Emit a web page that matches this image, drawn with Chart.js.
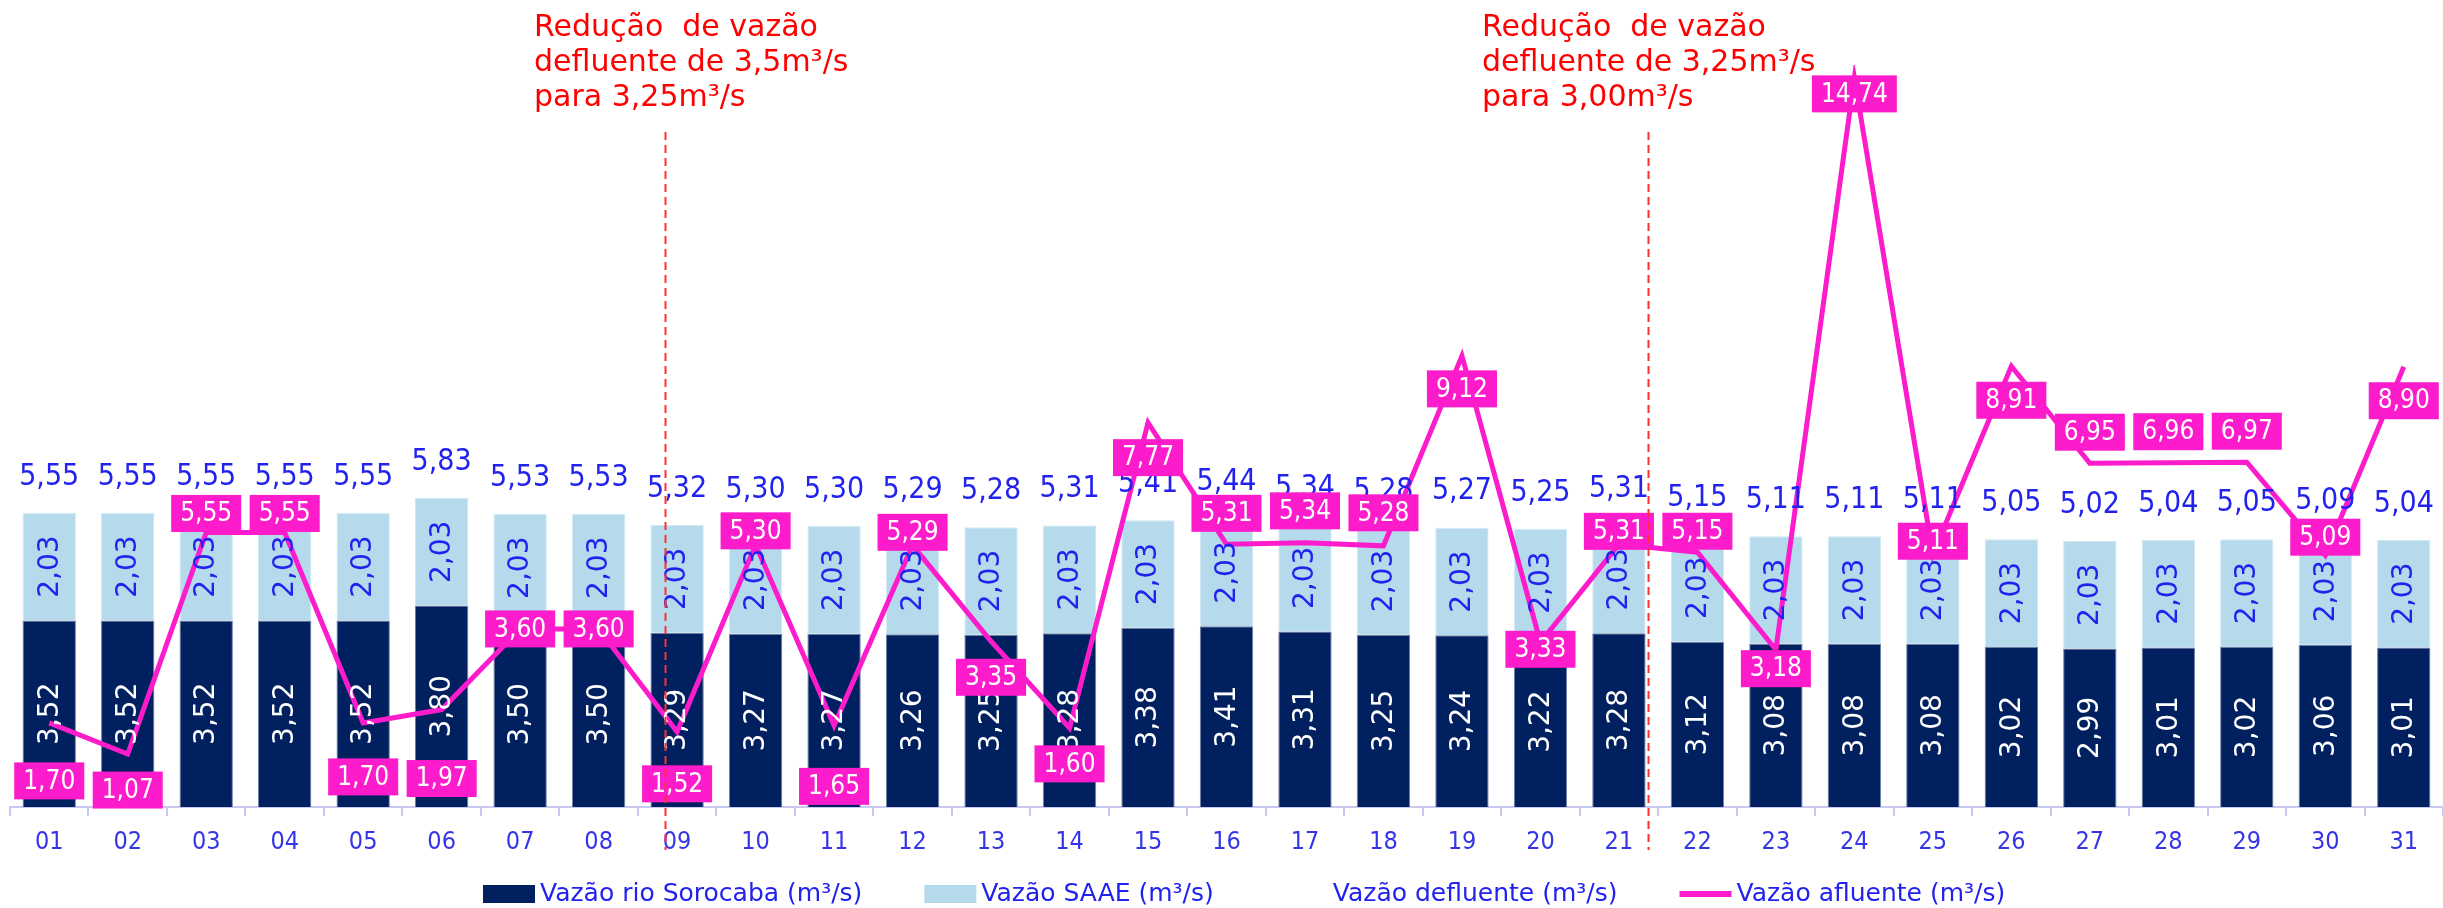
<!DOCTYPE html>
<html>
<head>
<meta charset="utf-8">
<script src="https://cdn.jsdelivr.net/npm/chart.js@4.4.1/dist/chart.umd.min.js"></script>
<style>
  html, body { margin: 0; padding: 0; background: #fff; }
  #wrap { width: 2443px; height: 908px; }
</style>
</head>
<body>
<div id="wrap"><canvas id="chart"></canvas></div>
<script>
const dias = ['01','02','03','04','05','06','07','08','09','10','11','12','13','14','15','16',
              '17','18','19','20','21','22','23','24','25','26','27','28','29','30','31'];
const sorocaba = [3.52,3.52,3.52,3.52,3.52,3.80,3.50,3.50,3.29,3.27,3.27,3.26,3.25,3.28,3.38,3.41,
                  3.31,3.25,3.24,3.22,3.28,3.12,3.08,3.08,3.08,3.02,2.99,3.01,3.02,3.06,3.01];
const saae = [2.03,2.03,2.03,2.03,2.03,2.03,2.03,2.03,2.03,2.03,2.03,2.03,2.03,2.03,2.03,2.03,
              2.03,2.03,2.03,2.03,2.03,2.03,2.03,2.03,2.03,2.03,2.03,2.03,2.03,2.03,2.03];
const defluente = [5.55,5.55,5.55,5.55,5.55,5.83,5.53,5.53,5.32,5.30,5.30,5.29,5.28,5.31,5.41,5.44,
                   5.34,5.28,5.27,5.25,5.31,5.15,5.11,5.11,5.11,5.05,5.02,5.04,5.05,5.09,5.04];
const afluente = [1.70,1.07,5.55,5.55,1.70,1.97,3.60,3.60,1.52,5.30,1.65,5.29,3.35,1.60,7.77,5.31,
                  5.34,5.28,9.12,3.33,5.31,5.15,3.18,14.74,5.11,8.91,6.95,6.96,6.97,5.09,8.90];

// deslocamento vertical das etiquetas da vazão afluente (px)
const afluenteLabelDy = [58,36,-19,-19,54,69,0,0,52,-14,61,-13,36,36,35,-31,
                         -32,-33,33,7,-13,-21,19,16,-13,34,-31,-31,-31,-18,34];

const notas = [
  { pos: 7.85,  textX: 534,  linhas: ['Redução  de vazão', 'defluente de 3,5m³/s', 'para 3,25m³/s'] },
  { pos: 20.37, textX: 1482, linhas: ['Redução  de vazão', 'defluente de 3,25m³/s', 'para 3,00m³/s'] }
];

const FONT = "'DejaVu Sans Condensed', 'Liberation Sans Narrow', sans-serif";
const FONT_W = "'DejaVu Sans', Verdana, sans-serif";
const AZUL = '#2222ee';
const MAGENTA = '#fc1ccc';
const fmt = v => v.toFixed(2).replace('.', ',');

const labelsPlugin = {
  id: 'labels',
  afterDatasetsDraw(chart) {
    const ctx = chart.ctx;
    ctx.save();

    // valores dentro das barras (rotacionados)
    [0, 1].forEach(di => {
      const meta = chart.getDatasetMeta(di);
      meta.data.forEach((bar, i) => {
        const cy = (bar.y + bar.base) / 2;
        ctx.save();
        ctx.translate(bar.x, cy);
        ctx.rotate(-Math.PI / 2);
        ctx.font = '28px ' + FONT_W;
        ctx.fillStyle = di === 0 ? '#ffffff' : AZUL;
        ctx.textAlign = 'center';
        ctx.textBaseline = 'middle';
        ctx.fillText(fmt(chart.data.datasets[di].data[i]), 0, 1);
        ctx.restore();
      });
    });

    // vazão defluente acima das barras
    const defMeta = chart.getDatasetMeta(2);
    ctx.font = '30px ' + FONT;
    ctx.fillStyle = AZUL;
    ctx.textAlign = 'center';
    ctx.textBaseline = 'middle';
    defMeta.data.forEach((pt, i) => {
      ctx.fillText(fmt(defluente[i]), pt.x, pt.y - 36);
    });

    // vazão afluente em caixas magenta
    const afMeta = chart.getDatasetMeta(3);
    ctx.font = '26px ' + FONT;
    afMeta.data.forEach((pt, i) => {
      const t = fmt(afluente[i]);
      const w = ctx.measureText(t).width + 18;
      const h = 37;
      const cy = pt.y + afluenteLabelDy[i];
      ctx.fillStyle = MAGENTA;
      ctx.fillRect(pt.x - w / 2, cy - h / 2, w, h);
      ctx.fillStyle = '#ffffff';
      ctx.fillText(t, pt.x, cy + 1);
    });
    ctx.restore();
  },
  afterDraw(chart) {
    const ctx = chart.ctx;
    const x = chart.scales.x;
    ctx.save();
    // linhas tracejadas e notas
    notas.forEach(n => {
      const px = Math.round(x.getPixelForValue(n.pos)) + 0.5;
      ctx.strokeStyle = '#ff3030';
      ctx.lineWidth = 2;
      ctx.setLineDash([8, 5]);
      ctx.beginPath();
      ctx.moveTo(px, 132);
      ctx.lineTo(px, 850);
      ctx.stroke();
      ctx.setLineDash([]);
      ctx.fillStyle = '#ff0000';
      ctx.font = '30px ' + FONT_W;
      ctx.textAlign = 'left';
      ctx.textBaseline = 'alphabetic';
      n.linhas.forEach((l, k) => ctx.fillText(l, n.textX, 36 + k * 35));
    });

    // legenda
    const itens = [
      { text: chart.data.datasets[0].label, tipo: 'box', cor: '#002060' },
      { text: chart.data.datasets[1].label, tipo: 'box', cor: '#b4daec' },
      { text: chart.data.datasets[2].label, tipo: 'none' },
      { text: chart.data.datasets[3].label, tipo: 'line', cor: MAGENTA }
    ];
    ctx.font = '25px ' + FONT_W;
    ctx.textBaseline = 'middle';
    ctx.textAlign = 'left';
    let lx = 483;
    const ly = 894;
    itens.forEach(it => {
      if (it.tipo === 'box') {
        ctx.fillStyle = it.cor;
        ctx.fillRect(lx, ly - 9, 52, 18);
      } else if (it.tipo === 'line') {
        ctx.strokeStyle = it.cor;
        ctx.lineWidth = 6;
        ctx.beginPath();
        ctx.moveTo(lx, ly);
        ctx.lineTo(lx + 52, ly);
        ctx.stroke();
      }
      ctx.fillStyle = AZUL;
      ctx.fillText(it.text, lx + 57, ly);
      lx += 57 + ctx.measureText(it.text).width + 62;
    });
    ctx.restore();
  }
};

new Chart(document.getElementById('chart'), {
  data: {
    labels: dias,
    datasets: [
      {
        type: 'bar',
        label: 'Vazão rio Sorocaba (m³/s)',
        data: sorocaba,
        backgroundColor: '#002060',
        borderColor: '#6f7fa6',
        borderWidth: 1,
        stack: 's',
        yAxisID: 'y',
        order: 2
      },
      {
        type: 'bar',
        label: 'Vazão SAAE (m³/s)',
        data: saae,
        backgroundColor: '#b4daec',
        borderColor: '#d2eaf4',
        borderWidth: 1,
        stack: 's',
        yAxisID: 'y',
        order: 2
      },
      {
        type: 'line',
        label: 'Vazão defluente (m³/s)',
        data: defluente,
        showLine: false,
        pointRadius: 0,
        yAxisID: 'y',
        order: 1
      },
      {
        type: 'line',
        label: 'Vazão afluente (m³/s)',
        data: afluente,
        borderColor: MAGENTA,
        borderWidth: 5,
        pointRadius: 0,
        tension: 0,
        yAxisID: 'y1',
        order: 0
      }
    ]
  },
  options: {
    responsive: true,
    maintainAspectRatio: false,
    animation: false,
    layout: { padding: { left: 10, right: -13, top: 65, bottom: 0 } },
    datasets: { bar: { categoryPercentage: 1, barPercentage: 0.68 } },
    scales: {
      x: {
        stacked: true,
        grid: { display: true, drawOnChartArea: false, tickLength: 9, color: '#c8c8f2', lineWidth: 2 },
        border: { color: '#c8c8f2', width: 2 },
        ticks: { color: '#3535e8', font: { family: FONT, size: 25 }, padding: 11 },
        afterFit: s => { s.height = 101; }
      },
      y: { stacked: true, display: false, min: 0, max: 14 },
      y1: { display: false, min: 0, max: 15 }
    },
    plugins: {
      legend: { display: false },
      tooltip: { enabled: false }
    }
  },
  plugins: [labelsPlugin]
});
</script>
</body>
</html>
